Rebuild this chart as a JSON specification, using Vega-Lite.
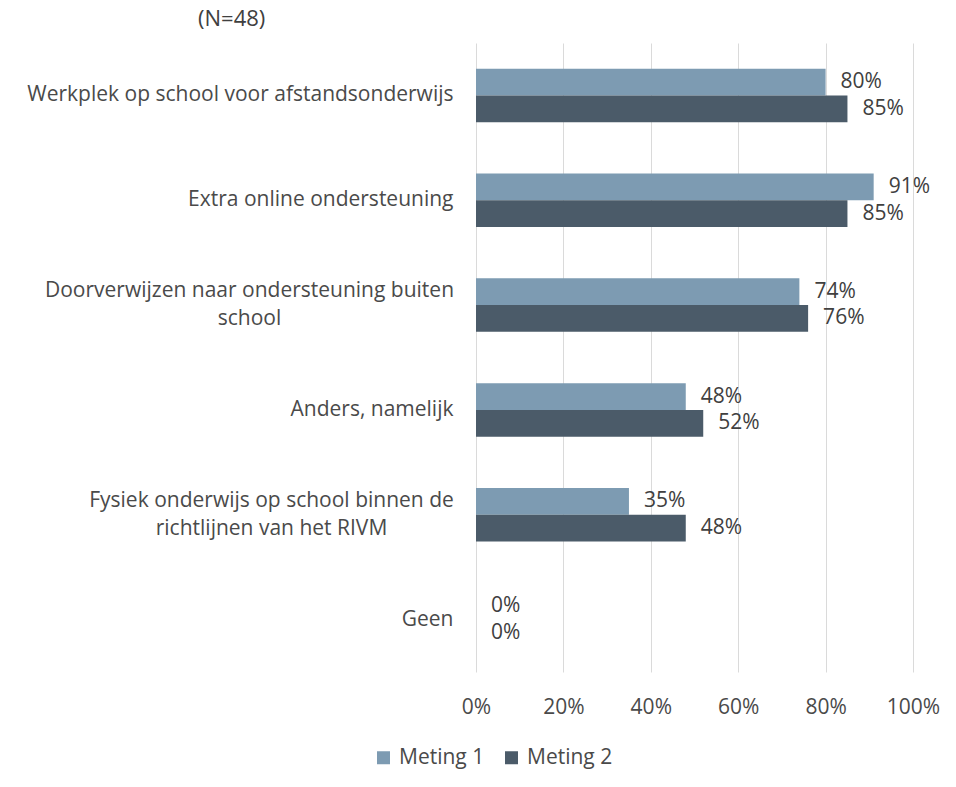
{
  "$schema": "https://vega.github.io/schema/vega-lite/v6.json",
  "width": 437,
  "height": 629,
  "autosize": {"type": "none"},
  "padding": {"left": 476, "top": 43, "right": 43, "bottom": 115},
  "background": "white",
  "title": {"text": "(N=48)", "anchor": "start", "frame": "group", "fontSize": 22, "font": "Open Sans", "fontWeight": "normal", "color": "#404040", "dx": -278, "offset": 12},
  "config": {
    "view": {"stroke": null},
    "font": "Open Sans",
    "axis": {"labelFont": "Open Sans", "labelFontSize": 21, "labelColor": "#4a4a4a", "gridColor": "#dadada", "domain": false, "ticks": false},
    "legend": {"labelFont": "Open Sans", "labelFontSize": 21, "labelColor": "#4a4a4a"}
  },
  "data": {"values": [
    {"cat": "Werkplek op school voor afstandsonderwijs", "meting": "Meting 1", "v": 0.80},
    {"cat": "Werkplek op school voor afstandsonderwijs", "meting": "Meting 2", "v": 0.85},
    {"cat": "Extra online ondersteuning", "meting": "Meting 1", "v": 0.91},
    {"cat": "Extra online ondersteuning", "meting": "Meting 2", "v": 0.85},
    {"cat": "Doorverwijzen naar ondersteuning buiten|school", "meting": "Meting 1", "v": 0.74},
    {"cat": "Doorverwijzen naar ondersteuning buiten|school", "meting": "Meting 2", "v": 0.76},
    {"cat": "Anders, namelijk", "meting": "Meting 1", "v": 0.48},
    {"cat": "Anders, namelijk", "meting": "Meting 2", "v": 0.52},
    {"cat": "Fysiek onderwijs op school binnen de|richtlijnen van het RIVM", "meting": "Meting 1", "v": 0.35},
    {"cat": "Fysiek onderwijs op school binnen de|richtlijnen van het RIVM", "meting": "Meting 2", "v": 0.48},
    {"cat": "Geen", "meting": "Meting 1", "v": 0},
    {"cat": "Geen", "meting": "Meting 2", "v": 0}
  ]},
  "encoding": {
    "y": {"field": "cat", "type": "nominal", "sort": null,
          "scale": {"paddingInner": 0.49, "paddingOuter": 0.245},
          "axis": {"title": null, "labelLimit": 600, "labelLineHeight": 28,
                   "labelAlign": {"expr": "indexof(datum.value, '|') < 0 ? 'right' : 'center'"},
                   "labelPadding": {"expr": "indexof(datum.value, '|') < 0 ? 23 : (indexof(datum.value, 'Doorverwijzen') >= 0 ? 227 : 205)"},
                   "labelOffset": {"expr": "indexof(datum.value, '|') < 0 ? 0 : -14"},
                   "labelExpr": "indexof(datum.value, '|') < 0 ? datum.value : split(datum.value, '|')",
                   "grid": false}},
    "x": {"field": "v", "type": "quantitative",
          "scale": {"domain": [0, 1]},
          "axis": {"title": null, "format": ".0%", "values": [0, 0.2, 0.4, 0.6, 0.8, 1], "labelPadding": 24, "labelOverlap": false, "labelFlush": false, "grid": true}},
    "yOffset": {"field": "meting", "type": "nominal"}
  },
  "layer": [
    {"mark": {"type": "bar"},
     "encoding": {
       "color": {"field": "meting", "type": "nominal",
                 "scale": {"range": ["#7d9bb2", "#4b5b69"]},
                 "legend": {"title": null, "orient": "none", "direction": "horizontal", "legendX": -103, "legendY": 704, "symbolType": "square", "symbolSize": 169, "symbolStrokeWidth": 0, "columnPadding": 16, "labelOffset": 5}}
     }},
    {"mark": {"type": "text", "align": "left", "dx": 15, "baseline": "middle", "fontSize": 21, "font": "Open Sans", "color": "#404040"},
     "encoding": {"text": {"field": "v", "type": "quantitative", "format": ".0%"}}}
  ]
}
